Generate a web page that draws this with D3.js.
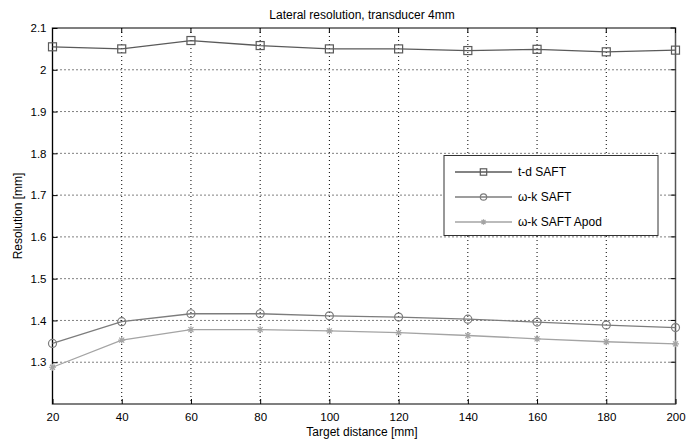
<!DOCTYPE html>
<html>
<head>
<meta charset="utf-8">
<script src="https://cdn.jsdelivr.net/npm/d3@7"></script>
<style>
  body { margin: 0; background: #fff; }
  svg { font-family: "Liberation Sans", Arial, sans-serif; }
</style>
</head>
<body>
<svg id="chart" width="697" height="441"></svg>
<script>
const distances = [20, 40, 60, 80, 100, 120, 140, 160, 180, 200];
const tdSaft = [2.055, 2.050, 2.070, 2.058, 2.050, 2.050, 2.046, 2.049, 2.043, 2.047];
const wkSaft = [1.345, 1.397, 1.416, 1.416, 1.411, 1.408, 1.403, 1.396, 1.389, 1.383];
const wkApod = [1.288, 1.353, 1.378, 1.378, 1.375, 1.371, 1.364, 1.356, 1.349, 1.344];
const xTicks = [20, 40, 60, 80, 100, 120, 140, 160, 180, 200];
const yTicks = [1.3, 1.4, 1.5, 1.6, 1.7, 1.8, 1.9, 2, 2.1];

const series = [
  { name: "t-d SAFT", values: tdSaft, color: "#5a5a5a", marker: "square" },
  { name: "\u03c9-k SAFT", values: wkSaft, color: "#7c7c7c", marker: "circle" },
  { name: "\u03c9-k SAFT Apod", values: wkApod, color: "#a4a4a4", marker: "star" }
];

const svg = d3.select("#chart");
const plotL = 52.5, plotR = 675.5, plotT = 28, plotB = 404;

const x = d3.scaleLinear().domain([20, 200]).range([plotL, plotR]);
const y = d3.scaleLinear().domain([1.2, 2.1]).range([plotB, plotT]);

// grid
svg.append("g").selectAll("line").data(xTicks.slice(1, -1)).join("line")
  .attr("x1", d => x(d)).attr("x2", d => x(d))
  .attr("y1", plotT).attr("y2", plotB)
  .attr("stroke", "#000").attr("stroke-dasharray", "1,3");
svg.append("g").selectAll("line").data(yTicks.slice(0, -1)).join("line")
  .attr("x1", plotL).attr("x2", plotR)
  .attr("y1", d => y(d)).attr("y2", d => y(d))
  .attr("stroke", "#000").attr("stroke-dasharray", "1,3");

// box
svg.append("rect").attr("x", plotL).attr("y", plotT)
  .attr("width", plotR - plotL).attr("height", plotB - plotT)
  .attr("fill", "none").attr("stroke", "#555").attr("stroke-width", 1.5);
svg.append("line").attr("x1", plotL).attr("x2", plotL).attr("y1", plotT).attr("y2", plotB)
  .attr("stroke", "#000");

// axes with inward ticks
const xAxis = d3.axisBottom(x).tickValues(xTicks).tickSize(-5).tickPadding(9).tickFormat(d3.format("d"));
const gx = svg.append("g").attr("transform", `translate(0,${plotB})`).call(xAxis);
gx.select(".domain").remove();
const yAxis = d3.axisLeft(y).tickValues(yTicks).tickSize(-5).tickPadding(6).tickFormat(d => d === 2 ? "2" : d3.format(".1f")(d));
const gy = svg.append("g").attr("transform", `translate(${plotL},0)`).call(yAxis);
gy.select(".domain").remove();
[gx, gy].forEach(g => {
  g.selectAll("text").attr("font-size", 11.5).attr("fill", "#000")
    .attr("font-family", "Liberation Sans, Arial, sans-serif");
  g.selectAll(".tick line").attr("stroke", "#000");
});
// mirrored ticks on top and right
svg.append("g").selectAll("line").data(xTicks).join("line")
  .attr("x1", d => x(d)).attr("x2", d => x(d)).attr("y1", plotT).attr("y2", plotT + 5).attr("stroke", "#000");
svg.append("g").selectAll("line").data(yTicks).join("line")
  .attr("x1", plotR - 5).attr("x2", plotR).attr("y1", d => y(d)).attr("y2", d => y(d)).attr("stroke", "#000");

// titles
svg.append("text").attr("x", 362).attr("y", 19).attr("text-anchor", "middle")
  .attr("font-size", 12).text("Lateral resolution, transducer 4mm");
svg.append("text").attr("x", 362).attr("y", 436).attr("text-anchor", "middle")
  .attr("font-size", 12).text("Target distance [mm]");
svg.append("text").attr("transform", `translate(22,${(plotT + plotB) / 2}) rotate(-90)`)
  .attr("text-anchor", "middle").attr("font-size", 12).text("Resolution [mm]");

function drawMarker(g, type, cx, cy, color, k = 1) {
  if (type === "square") {
    g.append("rect").attr("x", cx - 4 * k).attr("y", cy - 4 * k).attr("width", 8 * k).attr("height", 8 * k)
      .attr("fill", "none").attr("stroke", color).attr("stroke-width", 1.2);
  } else if (type === "circle") {
    g.append("circle").attr("cx", cx).attr("cy", cy).attr("r", 4 * k)
      .attr("fill", "none").attr("stroke", color).attr("stroke-width", 1.2);
  } else {
    const s = 3.5 * k, t = 2.5 * k;
    g.append("path")
      .attr("d", `M${cx - s},${cy}H${cx + s}M${cx},${cy - s}V${cy + s}M${cx - t},${cy - t}L${cx + t},${cy + t}M${cx - t},${cy + t}L${cx + t},${cy - t}`)
      .attr("stroke", color).attr("stroke-width", 1.2);
  }
}

const line = d3.line().x((d, i) => x(distances[i])).y(d => y(d));
series.forEach(s => {
  const g = svg.append("g");
  g.append("path").attr("d", line(s.values)).attr("fill", "none")
    .attr("stroke", s.color).attr("stroke-width", 1.3);
  s.values.forEach((v, i) => drawMarker(g, s.marker, x(distances[i]), y(v), s.color));
});

// legend
const lg = svg.append("g");
lg.append("rect").attr("x", 444).attr("y", 155.5).attr("width", 214).attr("height", 80)
  .attr("fill", "#fff").attr("stroke", "#333").attr("stroke-width", 1);
series.forEach((s, i) => {
  const ly = 172 + i * 25;
  lg.append("line").attr("x1", 455).attr("x2", 512).attr("y1", ly).attr("y2", ly)
    .attr("stroke", s.color).attr("stroke-width", 1.3);
  drawMarker(lg, s.marker, 483.5, ly, s.color, 0.8);
  lg.append("text").attr("x", 518).attr("y", ly + 4).attr("font-size", 12).text(s.name);
});
</script>
</body>
</html>
